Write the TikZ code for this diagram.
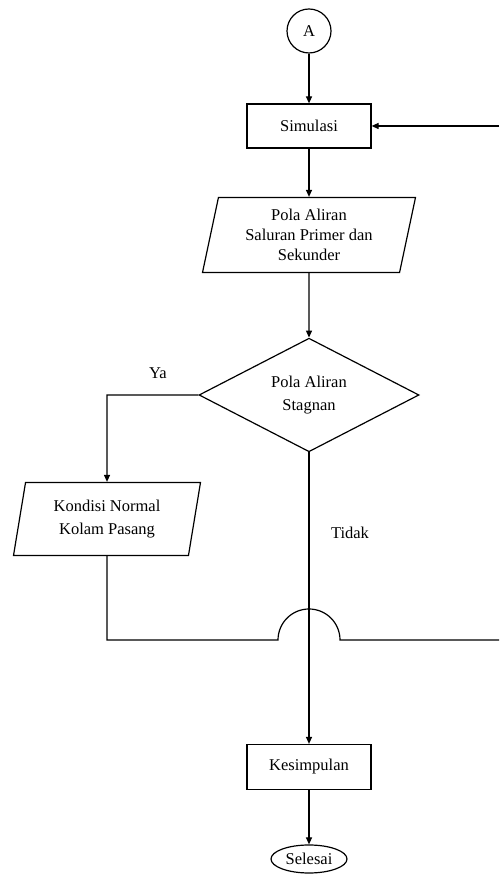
\documentclass[tikz,border=0pt]{standalone}
\usepackage{fontspec}
\setmainfont{Liberation Serif}
\usetikzlibrary{positioning}
\usetikzlibrary{shapes.geometric}
\usetikzlibrary{arrows.meta}

\begin{document}
\begin{tikzpicture}[x = 1pt, y = 1pt, line width = 1.2pt,
	every node/.style = {font = \fontsize{16.5}{20}\selectfont, align = center},
	proses/.style = {draw, rectangle, minimum width = 124pt, minimum height = 44pt},
	data/.style = {draw, trapezium, trapezium left angle = 74, trapezium right angle = 106,
		trapezium stretches body, inner sep = 2pt},
	keputusan/.style = {draw, diamond, minimum width = 220pt, minimum height = 104pt, inner sep = 0pt},
	penghubung/.style = {draw, circle, minimum size = 44pt, inner sep = 0pt},
	terminal/.style = {draw, ellipse, minimum width = 76pt, minimum height = 28pt, inner sep = 0pt},
	alur/.style = {-{Triangle[length = 7pt, width = 6pt]}}]
	\useasboundingbox (0, 0) rectangle (499, 874);
	\node[penghubung] (mulai) at (309, 843) {A};
	\node[proses] (simulasi) at (309, 748) {Simulasi};
	\node[data, minimum width = 213pt, minimum height = 75pt] (pola) at (309, 639) {\raisebox{-8pt}{\parbox{170pt}{\centering Pola Aliran\\Saluran Primer dan\\Sekunder}}};
	\node[keputusan, font = \fontsize{16.5}{23}\selectfont] (stagnan) at (309, 479) {Pola Aliran\\Stagnan};
	\node[data, minimum width = 187pt, minimum height = 73pt, font = \fontsize{16.5}{23}\selectfont] (normal) at (107, 355) {Kondisi Normal\\Kolam Pasang};
	\node[proses, minimum height = 45pt] (kesimpulan) at (309, 107) {Kesimpulan};
	\node[terminal] (selesai) at (309, 15) {Selesai};
	\node (labelya) at (158, 501) {Ya};
	\node (labeltidak) at (350, 341) {Tidak};
	% titik bantu
	\coordinate (balik) at (499, 748);
	\coordinate (ya) at (107, 479);
	\coordinate (bawah) at (107, 234);
	\coordinate (lompat) at (278, 234);
	\coordinate (kanan) at (499, 234);
	% garis alur
	\draw[alur] (mulai) -- (simulasi);
	\draw[alur] (balik) -- (simulasi.east);
	\draw[alur] (simulasi) -- (pola);
	\draw[alur] (pola) -- (stagnan);
	\draw[alur] (stagnan.west) -- (ya) -- (normal.north);
	\draw[alur] (stagnan.south) -- (kesimpulan.north);
	\draw[alur] (kesimpulan) -- (selesai);
	\draw (normal.south) -- (bawah) -- (lompat) arc[start angle = 180, end angle = 0, radius = 31] -- (kanan);
\end{tikzpicture}
\end{document}
